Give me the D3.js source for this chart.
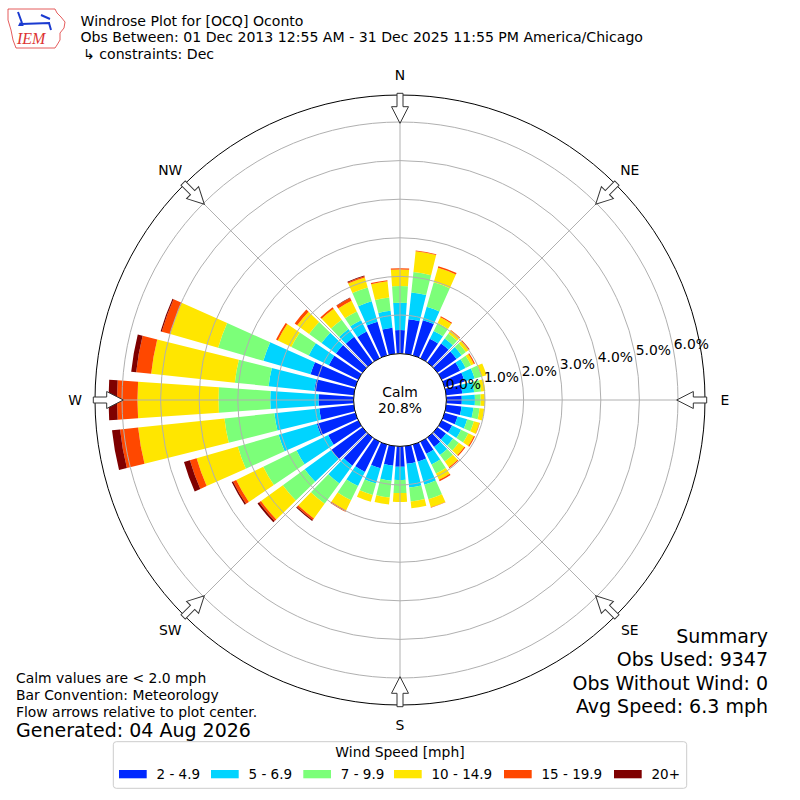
<!DOCTYPE html>
<html>
<head>
<meta charset="utf-8">
<script src="https://cdn.jsdelivr.net/npm/d3@7"></script>
<style>
body { margin: 0; background: #fff; }
svg { font-family: "DejaVu Sans", sans-serif; }
</style>
</head>
<body>
<svg id="chart" width="800" height="800"></svg>
<script>
// directions the wind blows from, every 10 degrees
const directions = d3.range(0, 360, 10);
const speedBins = ["2 - 4.9", "5 - 6.9", "7 - 9.9", "10 - 14.9", "15 - 19.9", "20+"];
const binColors = ["#0028ff", "#00d4ff", "#7cff79", "#ffe600", "#ff4800", "#7f0000"];

// percent of observations per direction, one array per speed bin
const bin2to5 = [0.61, 0.90, 0.95, 0.56, 0.61, 0.61, 0.53, 0.54, 0.42, 0.40, 0.40, 0.35,
  0.30, 0.27, 0.30, 0.35, 0.46, 0.46, 0.53, 0.51, 0.64, 0.87, 0.90, 1.00,
  0.87, 1.04, 0.90, 0.91, 1.03, 1.21, 0.85, 0.85, 0.82, 0.77, 0.91, 0.68];
const bin5to7 = [0.71, 0.70, 0.36, 0.23, 0.16, 0.16, 0.16, 0.27, 0.31, 0.34, 0.31, 0.26,
  0.26, 0.23, 0.26, 0.31, 0.62, 0.62, 0.34, 0.39, 0.41, 0.41, 0.57, 0.85,
  0.91, 1.03, 1.17, 1.25, 1.19, 1.27, 0.58, 0.46, 0.25, 0.33, 0.55, 0.44];
const bin7to10 = [0.43, 0.53, 0.66, 0.23, 0.16, 0.14, 0.16, 0.18, 0.18, 0.15, 0.16, 0.18,
  0.21, 0.18, 0.21, 0.26, 0.39, 0.36, 0.34, 0.44, 0.31, 0.41, 0.65, 0.70,
  0.96, 1.10, 1.30, 1.34, 0.88, 1.22, 0.50, 0.40, 0.30, 0.25, 0.37, 0.35];
const bin10to15 = [0.43, 0.54, 0.39, 0.16, 0.09, 0.09, 0.08, 0.14, 0.11, 0.11, 0.12, 0.15,
  0.16, 0.18, 0.18, 0.18, 0.22, 0.18, 0.23, 0.18, 0.18, 0.29, 0.47, 0.70,
  0.78, 1.11, 2.25, 2.10, 2.18, 1.29, 0.39, 0.38, 0.35, 0.31, 0.27, 0.42];
const bin15to20 = [0.03, 0.02, 0.04, 0.03, 0.02, 0.03, 0.03, 0.00, 0.00, 0.00, 0.00, 0.01,
  0.03, 0.03, 0.03, 0.04, 0.01, 0.00, 0.00, 0.00, 0.00, 0.04, 0.05, 0.06,
  0.09, 0.18, 0.47, 0.53, 0.39, 0.23, 0.05, 0.08, 0.05, 0.08, 0.03, 0.03];
const bin20plus = [0, 0, 0, 0, 0, 0, 0, 0, 0, 0, 0, 0,
  0, 0, 0, 0, 0, 0, 0, 0, 0, 0, 0.03, 0.05,
  0.04, 0.16, 0.21, 0.22, 0.13, 0.03, 0, 0, 0, 0.01, 0.02, 0];

const calmPct = 20.8;
const ringTicks = [0, 1, 2, 3, 4, 5, 6];
const compass = [["N", 0], ["NE", 45], ["E", 90], ["SE", 135], ["S", 180], ["SW", 225], ["W", 270], ["NW", 315]];

const titleLines = ["Windrose Plot for [OCQ] Oconto",
  "Obs Between: 01 Dec 2013 12:55 AM - 31 Dec 2025 11:55 PM America/Chicago",
  "\u21b3 constraints: Dec"];
const noteLines = ["Calm values are < 2.0 mph", "Bar Convention: Meteorology",
  "Flow arrows relative to plot center."];
const generated = "Generated: 04 Aug 2026";
const summaryLines = ["Summary", "Obs Used: 9347", "Obs Without Wind: 0", "Avg Speed: 6.3 mph"];

const svg = d3.select("#chart");
const cx = 400, cy = 400;
const rad = Math.PI / 180;

// radial scale: 0% sits on the calm circle
const r = d3.scaleLinear().domain([0, 6]).range([46.4, 278]);
const outerR = 305;

const g = svg.append("g").attr("transform", `translate(${cx},${cy})`);

// stack the bins
const series = [bin2to5, bin5to7, bin7to10, bin10to15, bin15to20, bin20plus];
const table = directions.map((d, i) => {
  let row = {dir: d};
  speedBins.forEach((b, j) => row[b] = series[j][i]);
  return row;
});
const stacked = d3.stack().keys(speedBins)(table);

const arc = d3.arc()
  .innerRadius(d => r(d[0]))
  .outerRadius(d => r(d[1]))
  .startAngle(d => (d.data.dir - 4) * rad)
  .endAngle(d => (d.data.dir + 4) * rad);

g.selectAll("g.bin")
  .data(stacked).enter()
  .append("g")
  .attr("class", "bin")
  .attr("fill", (d, i) => binColors[i])
  .selectAll("path")
  .data(d => d.filter(s => s[1] - s[0] > 0)).enter()
  .append("path")
  .attr("d", arc);

// grid on top of the bars
g.selectAll("circle.ring")
  .data(ringTicks.slice(1)).enter()
  .append("circle")
  .attr("class", "ring")
  .attr("r", d => r(d))
  .attr("fill", "none")
  .attr("stroke", "#b0b0b0")
  .attr("stroke-width", 1);

g.selectAll("line.spoke")
  .data(compass).enter()
  .append("line")
  .attr("x1", d => r(0) * Math.sin(d[1] * rad))
  .attr("y1", d => -r(0) * Math.cos(d[1] * rad))
  .attr("x2", d => outerR * Math.sin(d[1] * rad))
  .attr("y2", d => -outerR * Math.cos(d[1] * rad))
  .attr("stroke", "#b0b0b0")
  .attr("stroke-width", 1);

g.append("circle")
  .attr("r", outerR)
  .attr("fill", "none")
  .attr("stroke", "#000")
  .attr("stroke-width", 1);

// calm circle
g.append("circle")
  .attr("r", r(0))
  .attr("fill", "#fff")
  .attr("stroke", "#000")
  .attr("stroke-width", 1);

g.append("text")
  .attr("y", -3)
  .attr("text-anchor", "middle")
  .attr("font-size", 13.9)
  .text("Calm");
g.append("text")
  .attr("y", 13)
  .attr("text-anchor", "middle")
  .attr("font-size", 13.9)
  .text(calmPct.toFixed(1) + "%");

// ring labels
g.selectAll("text.rlab")
  .data(ringTicks).enter()
  .append("text")
  .attr("x", d => r(d) * Math.cos(10 * rad))
  .attr("y", d => -r(d) * Math.sin(10 * rad) - 3)
  .attr("font-size", 13.9)
  .text(d => d.toFixed(1) + "%");

// flow arrows, drawn for N then rotated
const arrowPts = [[0, -276.7], [-8.5, -293.3], [-3, -293.3], [-3, -306.7],
  [3, -306.7], [3, -293.3], [8.5, -293.3]];
g.selectAll("polygon.arrow")
  .data(compass).enter()
  .append("polygon")
  .attr("points", arrowPts.map(p => p.join(",")).join(" "))
  .attr("transform", d => `rotate(${d[1]})`)
  .attr("fill", "#fff")
  .attr("stroke", "#333")
  .attr("stroke-width", 1);

g.selectAll("text.dir")
  .data(compass).enter()
  .append("text")
  .attr("x", d => 325 * Math.sin(d[1] * rad))
  .attr("y", d => -325 * Math.cos(d[1] * rad) + 5)
  .attr("text-anchor", "middle")
  .attr("font-size", 13.9)
  .text(d => d[0]);

// header
svg.selectAll("text.title")
  .data(titleLines).enter()
  .append("text")
  .attr("x", (d, i) => i == 2 ? 83 : 80.5)
  .attr("y", (d, i) => 25.5 + i * 16.8)
  .attr("font-size", 14.1)
  .text(d => d);

// IEM logo
const logo = svg.append("g");
logo.append("path")
  .attr("d", "M8,9 L55,9 L57,13 L61,17 L65,22 L64,28 L60,33 L60,40 L57,45 L55,48 L16,48 L13,40 L11,30 L8,20 Z")
  .attr("fill", "none")
  .attr("stroke", "#d33")
  .attr("stroke-width", 0.8);
logo.append("path")
  .attr("d", "M21,24 L50,23 M18,12 L22,23 M41,15 L50,19 M49,23 L51,30")
  .attr("stroke", "#1a3ad0")
  .attr("stroke-width", 2)
  .attr("fill", "none");
logo.append("path")
  .attr("d", "M20,22 L24,26 L18,26 Z")
  .attr("fill", "#1a3ad0");
logo.append("text")
  .attr("x", 17)
  .attr("y", 44)
  .attr("font-family", "Liberation Serif, serif")
  .attr("font-style", "italic")
  .attr("font-size", 16)
  .attr("fill", "#d33")
  .text("IEM");

// notes bottom left
svg.selectAll("text.note")
  .data(noteLines).enter()
  .append("text")
  .attr("x", 16)
  .attr("y", (d, i) => 683 + i * 16.8)
  .attr("font-size", 13.9)
  .text(d => d);
svg.append("text")
  .attr("x", 16)
  .attr("y", 737)
  .attr("font-size", 19)
  .text(generated);

// summary bottom right
svg.selectAll("text.summary")
  .data(summaryLines).enter()
  .append("text")
  .attr("x", 768)
  .attr("y", (d, i) => 643 + i * 23.3)
  .attr("text-anchor", "end")
  .attr("font-size", 19)
  .text(d => d);

// legend
const legX = [119, 211, 303.3, 394, 504, 614];
const leg = svg.append("g");
leg.append("rect")
  .attr("x", 113.3).attr("y", 741.7)
  .attr("width", 573.4).attr("height", 46.6)
  .attr("rx", 3)
  .attr("fill", "#fff")
  .attr("stroke", "#ccc");
leg.append("text")
  .attr("x", 400).attr("y", 757)
  .attr("text-anchor", "middle")
  .attr("font-size", 13.9)
  .text("Wind Speed [mph]");
leg.selectAll("rect.key")
  .data(speedBins).enter()
  .append("rect")
  .attr("x", (d, i) => legX[i]).attr("y", 770)
  .attr("width", 27.7).attr("height", 8.3)
  .attr("fill", (d, i) => binColors[i]);
leg.selectAll("text.key")
  .data(speedBins).enter()
  .append("text")
  .attr("x", (d, i) => legX[i] + 37.5).attr("y", 779)
  .attr("font-size", 13.5)
  .text(d => d);
</script>
</body>
</html>
